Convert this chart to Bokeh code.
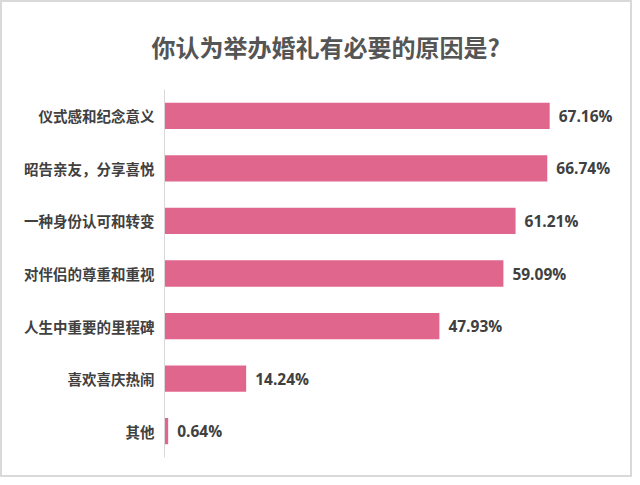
from bokeh.plotting import figure
from bokeh.models import ColumnDataSource, Range1d
from bokeh.core.properties import value
from bokeh.embed import file_html
from bokeh.resources import INLINE

title_text = "你认为举办婚礼有必要的原因是?"
categories = ["仪式感和纪念意义", "昭告亲友，分享喜悦", "一种身份认可和转变",
              "对伴侣的尊重和重视", "人生中重要的里程碑", "喜欢喜庆热闹", "其他"]
values = [67.16, 66.74, 61.21, 59.09, 47.93, 14.24, 0.64]
labels = [f"{v:.2f}%" for v in values]

src = ColumnDataSource(dict(cat=categories, val=values, lab=labels))

p = figure(width=632, height=477, output_backend="svg", toolbar_location=None,
           y_range=list(reversed(categories)), x_range=Range1d(0, 81.6),
           min_border_left=162, min_border_right=2, min_border_top=87,
           min_border_bottom=22)
p.styles = {"border": "2px solid #d9d9d9", "box-sizing": "border-box"}

p.title.text = title_text
p.title.align = "left"
p.title.vertical_align = "middle"
p.title.offset = -13
p.title.standoff = 50
p.title.text_font = "Noto Sans CJK SC"
p.title.text_font_size = "24px"
p.title.text_font_style = "bold"
p.title.text_color = "#555555"

p.hbar(y="cat", right="val", left=0, height=0.5, source=src,
       fill_color="#E0668E", line_color=None)
p.text(x="val", y="cat", text="lab", source=src, x_offset=9,
       text_baseline="middle", text_align="left",
       text_font=value("Open Sans"), text_font_size="15.5px",
       text_font_style="bold", text_color="#404040")

p.xaxis.visible = False
p.xgrid.visible = False
p.ygrid.visible = False
p.outline_line_color = None

ya = p.yaxis[0]
ya.axis_line_color = "#d9d9d9"
ya.axis_line_width = 1
ya.major_tick_line_color = None
ya.minor_tick_line_color = None
ya.major_tick_out = 0
ya.major_tick_in = 0
ya.major_label_standoff = 10
ya.major_label_text_font = "Noto Sans CJK SC"
ya.major_label_text_font_size = "14.5px"
ya.major_label_text_font_style = "bold"
ya.major_label_text_color = "#404040"

open("out.html", "w").write(file_html(p, INLINE))
